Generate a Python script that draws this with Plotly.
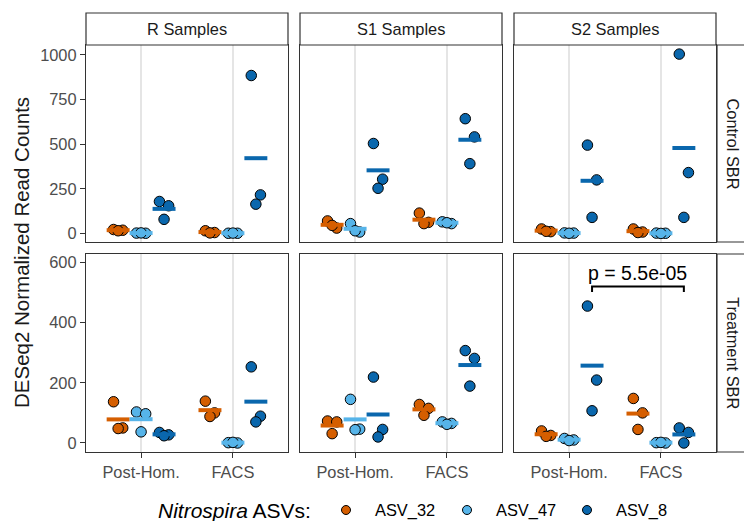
import numpy as np
import plotly.graph_objects as go

# ---------------- data ----------------
rows = ["Control SBR", "Treatment SBR"]
cols = ["R Samples", "S1 Samples", "S2 Samples"]
cats = ["Post-Hom.", "FACS"]
asvs = ["ASV_32", "ASV_47", "ASV_8"]
colors = {"ASV_32": "#D55E00", "ASV_47": "#56B4E9", "ASV_8": "#0A67AD"}

# values[asv] = [ [R_PH, R_FACS], [S1_PH, S1_FACS], [S2_PH, S2_FACS] ]
control_asv32 = [[[22, 18, 15], [15, 5, 3]],
                 [[70, 30, 45], [114, 62, 55]],
                 [[25, 10, 12], [25, 8, 5]]]
control_asv47 = [[[2, 1, 3], [1, 1, 2]],
                 [[55, 8, 15], [65, 55, 60]],
                 [[3, 2, 1], [2, 1, 0]]]
control_asv8 = [[[179, 155, 79], [885, 216, 164]],
                [[504, 304, 253], [643, 541, 391]],
                [[495, 300, 90], [1005, 341, 90]]]

treat_asv32 = [[[137, 50, 48], [139, 100, 88]],
               [[73, 70, 31], [128, 115, 92]],
               [[40, 25, 22], [148, 100, 45]]]
treat_asv47 = [[[103, 97, 37], [1, 0, 2]],
               [[145, 46, 44], [70, 65, 62]],
               [[15, 10, 8], [1, 0, 2]]]
treat_asv8 = [[[35, 27, 24], [253, 89, 70]],
              [[219, 45, 20], [307, 281, 189]],
              [[455, 209, 107], [50, 35, 0]]]

data = {
    "Control SBR": {"ASV_32": control_asv32, "ASV_47": control_asv47, "ASV_8": control_asv8},
    "Treatment SBR": {"ASV_32": treat_asv32, "ASV_47": treat_asv47, "ASV_8": treat_asv8},
}

y_ticks = {"Control SBR": [0, 250, 500, 750, 1000], "Treatment SBR": [0, 200, 400, 600]}
y_ranges = {"Control SBR": [-48, 1056], "Treatment SBR": [-30, 628]}

p_label = "p = 5.5e-05"   # S2 Samples, Treatment SBR, ASV_8 Post-Hom. vs FACS
legend_title = "<i>Nitrospira</i> ASVs:"

# ---------------- layout geometry ----------------
W, H = 744, 521
FONT = "Liberation Sans, Arial, Helvetica, sans-serif"
px_x = lambda p: p / W
px_y = lambda p: 1 - p / H

col_px = [(86, 288), (300, 502), (514, 716)]
row_px = [(45, 242), (254, 452)]
dodge = 0.25
jit = [-0.05, 0.05, 0.0]
half_bar = 0.125
SMALL = 16.4
BIG = 20.5

fig = go.Figure()
layout = dict(width=W, height=H, margin=dict(l=0, r=0, t=0, b=0, autoexpand=False),
              paper_bgcolor="white", plot_bgcolor="white",
              font=dict(family=FONT, color="#1a1a1a"), showlegend=False)

shapes, annotations = [], []

for ri, row in enumerate(rows):
    for ci, col in enumerate(cols):
        k = ri * 3 + ci + 1
        xa = "x" if k == 1 else f"x{k}"
        ya = "y" if k == 1 else f"y{k}"
        x0, x1 = col_px[ci]
        y0, y1 = row_px[ri]
        layout[f"xaxis{'' if k == 1 else k}"] = dict(
            domain=[px_x(x0), px_x(x1)], anchor=ya, range=[0.4, 2.6],
            tickvals=[1, 2], ticktext=cats, showticklabels=(ri == 1),
            ticks="outside" if ri == 1 else "", ticklen=5, tickcolor="#333333",
            tickfont=dict(size=SMALL, color="#4d4d4d", family=FONT),
            showgrid=True, gridcolor="#e5e5e5", gridwidth=1.5, zeroline=False,
            showline=True, mirror=True, linecolor="#333333", linewidth=1.2,
            fixedrange=True, automargin=False)
        layout[f"yaxis{'' if k == 1 else k}"] = dict(
            domain=[px_y(y1), px_y(y0)], anchor=xa, range=y_ranges[row],
            tickvals=y_ticks[row], showticklabels=(ci == 0),
            ticks="outside" if ci == 0 else "", ticklen=5, tickcolor="#333333",
            tickfont=dict(size=SMALL, color="#4d4d4d", family=FONT),
            showgrid=False, zeroline=False,
            showline=True, mirror=True, linecolor="#333333", linewidth=1.2,
            fixedrange=True, automargin=False)

        # points first
        for ai, asv in enumerate(asvs):
            xs, ys = [], []
            for gi, cat in enumerate(cats):
                vals = data[row][asv][ci][gi]
                base = gi + 1 + (ai - 1) * dodge
                for j, v in enumerate(vals):
                    xs.append(base + jit[j % len(jit)])
                    ys.append(v)
            fig.add_trace(go.Scatter(
                x=xs, y=ys, xaxis=xa, yaxis=ya, mode="markers", name=asv,
                legendgroup=asv,
                marker=dict(size=10.5, color=colors[asv], line=dict(color="black", width=1)),
                hoverinfo="skip"))
        # mean bars on top
        for ai, asv in enumerate(asvs):
            bx, by = [], []
            for gi, cat in enumerate(cats):
                m = float(np.mean(data[row][asv][ci][gi]))
                base = gi + 1 + (ai - 1) * dodge
                bx += [base - half_bar, base + half_bar, None]
                by += [m, m, None]
            fig.add_trace(go.Scatter(
                x=bx, y=by, xaxis=xa, yaxis=ya, mode="lines", legendgroup=asv,
                line=dict(color=colors[asv], width=4), hoverinfo="skip"))

# top strips
for ci, col in enumerate(cols):
    x0, x1 = col_px[ci]
    shapes.append(dict(type="rect", xref="paper", yref="paper",
                       x0=px_x(x0), x1=px_x(x1), y0=px_y(45), y1=px_y(13),
                       fillcolor="white", line=dict(color="#333333", width=1.2)))
    annotations.append(dict(text=col, xref="paper", yref="paper",
                            x=px_x((x0 + x1) / 2), y=px_y(29), showarrow=False,
                            font=dict(size=SMALL, color="#1a1a1a", family=FONT),
                            xanchor="center", yanchor="middle"))
# right strips
for ri, row in enumerate(rows):
    y0, y1 = row_px[ri]
    shapes.append(dict(type="rect", xref="paper", yref="paper",
                       x0=px_x(717), x1=px_x(752), y0=px_y(y1), y1=px_y(y0),
                       fillcolor="white", line=dict(color="#333333", width=1.2)))
    annotations.append(dict(text=row, xref="paper", yref="paper",
                            x=px_x(733), y=px_y((y0 + y1) / 2), showarrow=False,
                            textangle=90,
                            font=dict(size=SMALL, color="#1a1a1a", family=FONT),
                            xanchor="center", yanchor="middle"))

# y axis title
annotations.append(dict(text="DESeq2 Normalized Read Counts", xref="paper", yref="paper",
                        x=px_x(22), y=px_y(253), showarrow=False, textangle=-90,
                        font=dict(size=BIG, color="#1a1a1a", family=FONT),
                        xanchor="center", yanchor="middle"))

# significance bracket (S2 Samples, Treatment SBR)
pmax = max(max(v) for v in treat_asv8[2])
b_y = pmax * 1.143
b_tick = pmax * 0.04
bx0 = 1 + dodge
bx1 = 2 + dodge
shapes.append(dict(type="path", xref="x6", yref="y6",
                   path=f"M {bx0},{b_y - b_tick} L {bx0},{b_y} L {bx1},{b_y} L {bx1},{b_y - b_tick}",
                   line=dict(color="black", width=2)))
annotations.append(dict(text=p_label, xref="x6", yref="y6", x=(bx0 + bx1) / 2, y=b_y + 2,
                        showarrow=False, yanchor="bottom",
                        font=dict(size=19.5, color="black", family=FONT)))

# legend (bottom, horizontal) drawn as text + keys
LEG_Y = 510
annotations.append(dict(text=legend_title, xref="paper", yref="paper",
                        x=px_x(156), y=px_y(LEG_Y), xanchor="left", yanchor="middle",
                        showarrow=False, font=dict(size=21, color="black", family=FONT)))
key_x = [346, 467, 587]
for asv, kx in zip(asvs, key_x):
    r = 4.5
    shapes.append(dict(type="circle", xref="paper", yref="paper",
                       x0=px_x(kx - r), x1=px_x(kx + r), y0=px_y(LEG_Y + r), y1=px_y(LEG_Y - r),
                       fillcolor=colors[asv], line=dict(color="black", width=1)))
    annotations.append(dict(text=asv, xref="paper", yref="paper",
                            x=px_x(kx + 27), y=px_y(LEG_Y), xanchor="left", yanchor="middle",
                            showarrow=False, font=dict(size=SMALL, color="black", family=FONT)))

layout["shapes"] = shapes
layout["annotations"] = annotations
fig.update_layout(**layout)
fig.write_html("out.html", config={"displayModeBar": False},
               post_script="document.body.style.margin='0';document.body.style.overflow='hidden';")
